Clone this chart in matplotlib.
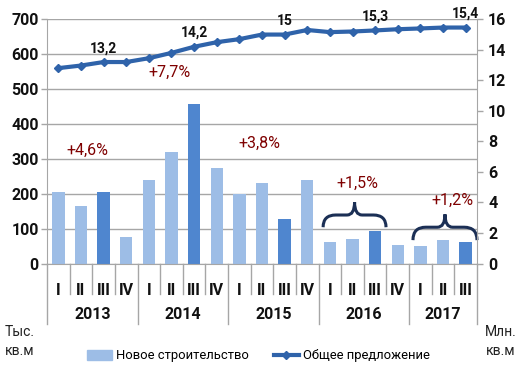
import matplotlib
matplotlib.use("Agg")
import matplotlib.pyplot as plt
from matplotlib.path import Path
from matplotlib.patches import PathPatch
from matplotlib.lines import Line2D
from matplotlib.patches import Patch
import matplotlib.transforms as mtransforms

plt.rcParams['font.family'] = ['Roboto', 'DejaVu Sans']

quarters = ["I", "II", "III", "IV"] * 4 + ["I", "II", "III"]
years = ["2013", "2014", "2015", "2016", "2017"]
year_sizes = [4, 4, 4, 4, 3]
new_construction = [206, 166, 206, 77, 240, 319, 456, 273, 199, 232, 128, 240, 63, 71, 94, 53, 50, 68, 62]
total_supply = [12.8, 12.97, 13.2, 13.2, 13.45, 13.8, 14.2, 14.5, 14.7, 15.0, 15.0, 15.3,
                15.16, 15.2, 15.27, 15.35, 15.4, 15.46, 15.46]
value_labels = {2: "13,2", 6: "14,2", 10: "15", 14: "15,3", 18: "15,4"}
growth_labels = ["+4,6%", "+7,7%", "+3,8%", "+1,5%", "+1,2%"]
growth_pos = [(1.3, 324), (4.9, 547), (8.9, 344), (13.2, 230), (17.4, 181)]

light = "#9DBDE6"
dark = "#4F86CF"
line_c = "#2F63AA"
grid_c = "#A6A6A6"
red_c = "#7F0000"
brace_c = "#1B2F55"
txt_c = "#111111"

fig = plt.figure(figsize=(5.2, 3.77), dpi=100)
ax = fig.add_axes([47/520, 1-263.5/377, (477-47)/520, (263.5-19.3)/377])
n = len(new_construction)
x = list(range(n))
colors = [dark if q == "III" else light for q in quarters]
ax.bar(x, new_construction, width=0.55, color=colors, zorder=2)
ax.set_xlim(-0.5, n-0.5)
ax.set_ylim(0, 700)
ax.set_yticks(range(0, 701, 100))
ax.yaxis.grid(True, color=grid_c, lw=1, zorder=0)
ax.set_xticks(x)
ax.set_xticklabels(quarters, fontsize=11.5, fontweight='bold', color=txt_c)
ax.tick_params(axis='x', length=0, pad=14)
ax.tick_params(axis='y', labelsize=11.5, length=4, color=grid_c, width=1, pad=2, labelcolor=txt_c)
for lab in ax.get_yticklabels():
    lab.set_fontweight('bold')
for s in ['top', 'right']:
    ax.spines[s].set_visible(False)
ax.spines['left'].set_color(grid_c)
ax.spines['bottom'].set_color(grid_c)

ax2 = ax.twinx()
ax2.set_ylim(0, 16)
ax2.set_yticks(range(0, 17, 2))
ax2.plot(x, total_supply, color=line_c, lw=3, marker='D', ms=4.5, zorder=3)
ax2.tick_params(axis='y', labelsize=11.5, length=4, color=grid_c, width=1, pad=4, labelcolor=txt_c)
for lab in ax2.get_yticklabels():
    lab.set_fontweight('bold')
for s in ['top', 'left', 'bottom']:
    ax2.spines[s].set_visible(False)
ax2.spines['right'].set_color(grid_c)

for i, t in value_labels.items():
    ax2.annotate(t, (i, total_supply[i]), xytext=(0, 10), textcoords='offset points',
                 ha='center', va='center', fontsize=10, fontweight='bold', color=txt_c)

for t, (gx, gy) in zip(growth_labels, growth_pos):
    ax.text(gx, gy, t, ha='center', va='center', fontsize=11.5, color=red_c, zorder=5)

# category separators
trans = mtransforms.blended_transform_factory(ax.transData, ax.transAxes)
yr_bounds = [0]
for s in year_sizes:
    yr_bounds.append(yr_bounds[-1] + s)
for i in range(n + 1):
    is_year = i in yr_bounds
    ax.add_line(Line2D([i - 0.5, i - 0.5], [0, -0.246 if is_year else -0.123],
                       transform=trans, color=grid_c, lw=1, clip_on=False))
for k, y in enumerate(years):
    c = (yr_bounds[k] + yr_bounds[k+1] - 1) / 2
    ax.text(c, -0.208, y, transform=trans, ha='center', va='center',
            fontsize=11.5, fontweight='bold', color=txt_c)

def brace(x0, x1, ybase, ymid, ytip):
    xm = (x0 + x1) / 2
    w = x1 - x0
    verts = [(x0, ybase), (x0, ymid), (x0 + 0.2*w, ymid),
             (xm - 0.12*w, ymid), (xm, ymid), (xm, ytip),
             (xm, ymid), (xm + 0.12*w, ymid),
             (x1 - 0.2*w, ymid), (x1, ymid), (x1, ybase)]
    codes = [Path.MOVETO, Path.CURVE3, Path.CURVE3,
             Path.LINETO, Path.CURVE3, Path.CURVE3,
             Path.CURVE3, Path.CURVE3,
             Path.LINETO, Path.CURVE3, Path.CURVE3]
    ax.add_patch(PathPatch(Path(verts, codes), fill=False, ec=brace_c, lw=2.2, zorder=4, clip_on=False))

brace(11.7, 14.48, 104, 139, 176)
brace(15.67, 18.5, 67, 104, 141)

fig.text(5/520, 1-332/377, "Тыс.", fontsize=10, color="#222222", va='center')
fig.text(5/520, 1-351/377, "кв.м", fontsize=10, color="#222222", va='center')
fig.text(485/520, 1-332/377, "Млн.", fontsize=10, color="#222222", va='center')
fig.text(486/520, 1-351/377, "кв.м", fontsize=10, color="#222222", va='center')

handles = [Patch(color=light, label="Новое строительство"),
           Line2D([], [], color=line_c, lw=3, marker='D', ms=4.5, label="Общее предложение")]
fig.legend(handles=handles, loc='center', bbox_to_anchor=(0.497, 1-356/377), ncol=2,
           frameon=False, fontsize=9.4, handlelength=1.9, handletextpad=0.3, columnspacing=1.9)

fig.savefig("out.png", dpi=100)
